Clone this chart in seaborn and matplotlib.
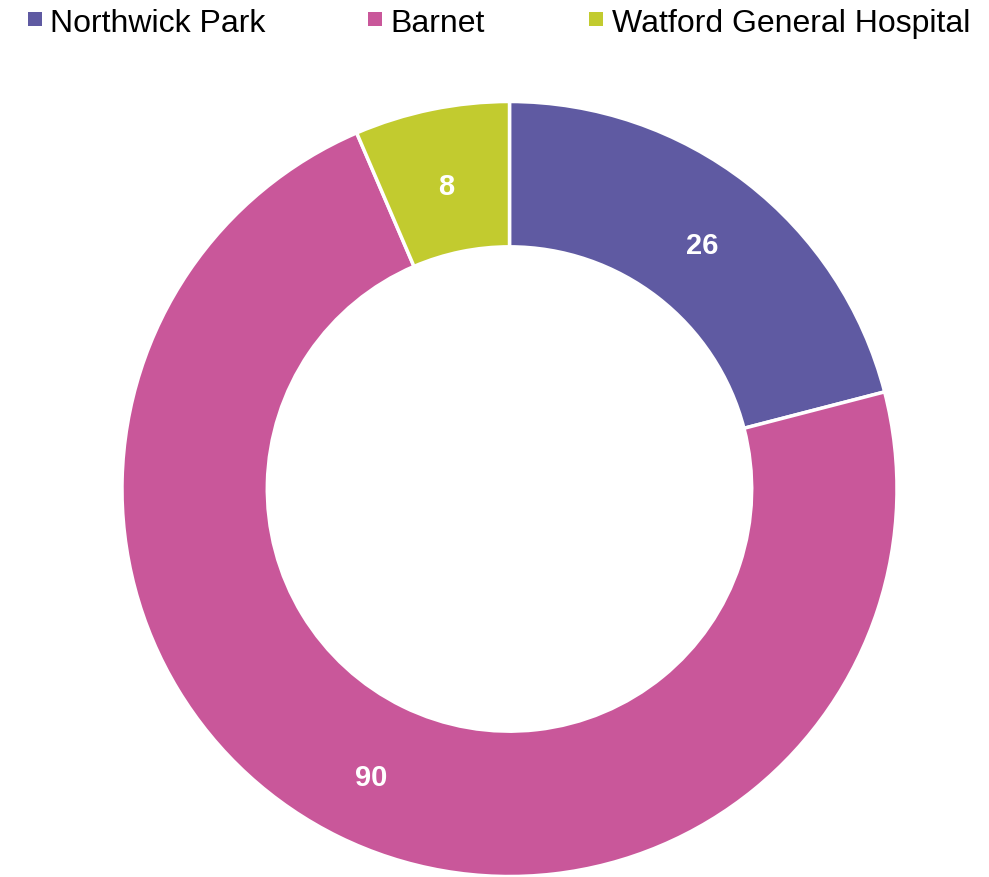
import matplotlib
matplotlib.use("Agg")
import matplotlib.pyplot as plt
import matplotlib.transforms as mtransforms
import seaborn as sns
import numpy as np
from matplotlib.patches import Rectangle

sns.set_theme(style="white")
plt.rcParams['font.family'] = ['Liberation Sans', 'DejaVu Sans']

categories = ["Northwick Park", "Barnet", "Watford General Hospital"]
values = [26, 90, 8]
colors = ["#5F5AA2", "#C9579A", "#C2CB2F"]

fig = plt.figure(figsize=(9.89, 8.78), dpi=100)
W, H = 989, 878
cx, cy, R = 509.5, 490, 387.5
ax = fig.add_axes([(cx - R) / W, (H - cy - R) / H, 2 * R / W, 2 * R / H])

ring = 0.375
wedges, texts = ax.pie(values, colors=colors, startangle=90, counterclock=False,
                       radius=1.0,
                       wedgeprops=dict(width=ring, edgecolor="white", linewidth=2.5))
mid_r = 1.0 - ring / 2
total = sum(values)
cum = 0
lab_tr = mtransforms.offset_copy(ax.transData, fig=fig, x=0, y=-5, units="dots")
for v in values:
    ang = np.deg2rad(90 - (cum + v / 2) / total * 360)
    ax.text(mid_r * np.cos(ang), mid_r * np.sin(ang), str(v), ha="center", va="center",
            color="white", fontsize=21, fontweight="bold", transform=lab_tr)
    cum += v
ax.set_xlim(-1, 1)
ax.set_ylim(-1, 1)
ax.set_aspect("auto")
ax.axis("off")

# legend (manual placement)
marker_x = [28, 368, 589]
text_x = [50, 390, 612]
sq = 14
for mx, tx, c, lab in zip(marker_x, text_x, colors, categories):
    fig.patches.append(Rectangle((mx / W, (H - 27) / H), sq / W, sq / H,
                                 transform=fig.transFigure, facecolor=c, edgecolor="none"))
    fig.text(tx / W, (H - 32) / H, lab, ha="left", va="baseline", fontsize=23, color="black")

fig.savefig("out.png", dpi=100)
